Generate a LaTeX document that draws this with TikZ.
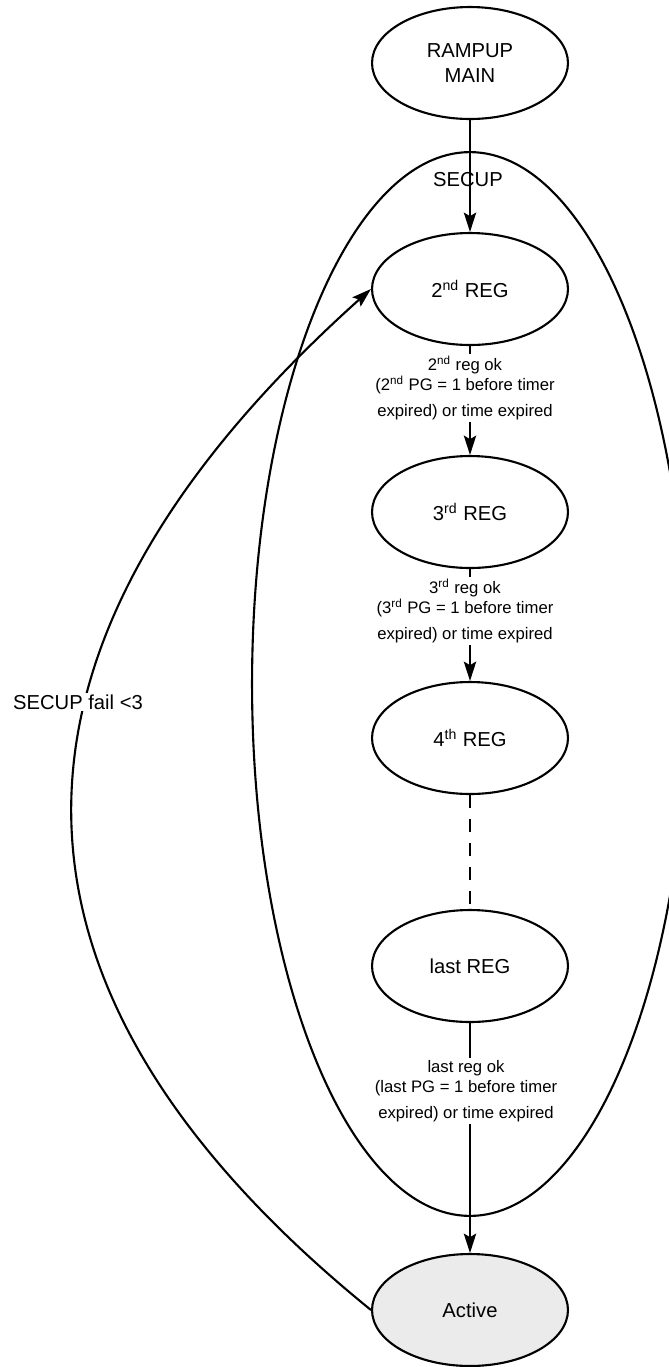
\documentclass[tikz,border=0pt]{standalone}
\usepackage{fontspec}
\setmainfont{Liberation Sans}
\usetikzlibrary{shapes.geometric,arrows.meta}

\begin{document}
\begin{tikzpicture}[x=0.02cm, y=-0.02cm,
		state/.style={draw, ellipse, line width=1.2pt, minimum width=3.92cm, minimum height=2.24cm,
			inner sep=0pt, align=center, font=\fontsize{11.5}{14}\selectfont},
		group/.style={draw, ellipse, line width=1.2pt, minimum width=8.72cm, minimum height=21.28cm, inner sep=0pt},
		trans/.style={line width=1.2pt, -{Stealth[length=11pt,width=7pt,inset=2pt]}},
		cond/.style={fill=white, inner sep=1pt, align=center, font=\fontsize{9.5}{11.5}\selectfont},
		lbl/.style={inner sep=1pt, font=\fontsize{11.5}{14}\selectfont}]
			%%%%% START %%%%%
			\useasboundingbox (0,0) rectangle (669,1367);
			\clip (0,0) rectangle (669,1367);
			
			% SECUP group
			\node[group] (secup) at (470,684) {};
			\node[lbl] (secuplbl) at (468,180) {SECUP};
			
			% states
			\node[state] (main) at (470,63) {RAMPUP\\MAIN};
			\node[state] (reg2) at (470,289) {2\textsuperscript{nd} REG};
			\node[state] (reg3) at (470,512) {3\textsuperscript{rd} REG};
			\node[state] (reg4) at (470,738) {4\textsuperscript{th} REG};
			\node[state] (regl) at (470,966) {last REG};
			\node[state, fill=black!8] (act) at (470,1310) {Active};
			
			% transitions
			\draw[trans] (main) -- (reg2);
			\draw[trans] (reg2) -- (reg3);
			\draw[trans] (reg3) -- (reg4);
			\draw[line width=1.2pt, dash pattern=on 7.4pt off 6.2pt] (reg4) -- (regl);
			\draw[trans] (regl) -- (act);
			
			\node[cond] (lbl2) at (465,388) {2\textsuperscript{nd} reg ok\\(2\textsuperscript{nd} PG = 1 before timer\\[3.3pt]expired) or time expired};
			\node[cond] (lbl3) at (465,611) {3\textsuperscript{rd} reg ok\\(3\textsuperscript{rd} PG = 1 before timer\\[3.3pt]expired) or time expired};
			\node[cond] (lbll) at (466,1091) {last reg ok\\(last PG = 1 before timer\\[3.3pt]expired) or time expired};
			
			% fail loop back
			\draw[trans] (act.west) .. controls (-85,940) and (35,590) .. (reg2.west);
			\node[lbl, fill=white] (faillbl) at (78,702) {SECUP fail <3};
			
			%%%%% END %%%%%
\end{tikzpicture}
\end{document}
